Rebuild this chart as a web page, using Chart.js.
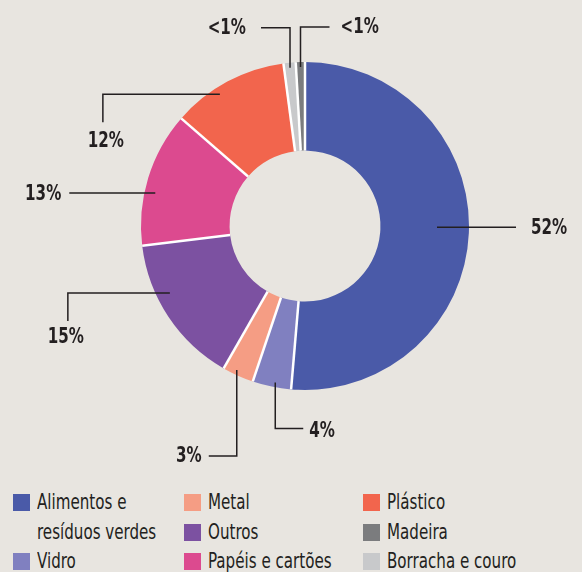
<!DOCTYPE html>
<html lang="pt">
  <head>
    <meta charset="UTF-8" />
    <meta name="viewport" content="width=device-width, initial-scale=1.0" />
    <title>Composição dos resíduos</title>
    <script src="https://cdn.jsdelivr.net/npm/chart.js"></script>
    <style>
      body {
        margin: 0;
        background: #e8e5e0;
        font-family: "DejaVu Sans Condensed", "DejaVu Sans", sans-serif;
        color: #231f20;
      }
      #wrap { position: relative; width: 582px; height: 572px; overflow: hidden; }
      #legend {
        position: absolute;
        left: 13px;
        top: 488px;
        display: grid;
        grid-template-columns: 171px 179px 219px;
        grid-template-rows: repeat(3, 29.5px);
        grid-auto-flow: column;
        font-size: 21px;
        line-height: 29.5px;
      }
      .item { display: flex; align-items: flex-start; }
      .item.tall { grid-row: span 2; }
      .box { width: 17px; height: 17px; margin-top: 6px; margin-right: 7px; flex: none; }
      /* squeeze the text to look like the narrow face of the original */
      .txt { display: inline-block; flex: none; width: 184px; white-space: normal; transform: scaleX(0.8); transform-origin: left center; }
    </style>
  </head>
  <body>
    <div id="wrap">
      <canvas id="myChart" width="582" height="480"></canvas>
      <div id="legend"></div>
    </div>
    <script>
      // categories in drawing order (clockwise from the top)
      const categories = [
        "Alimentos e resíduos verdes",
        "Vidro",
        "Metal",
        "Outros",
        "Papéis e cartões",
        "Plástico",
        "Borracha e couro",
        "Madeira",
      ];
      const shares = [51.3, 3.8, 3.1, 14.8, 13.3, 11.5, 1.2, 0.9];
      const shareLabels = ["52%", "4%", "3%", "15%", "13%", "12%", "<1%", "<1%"];
      const colors = ["#4a5aa8", "#8080c0", "#f59d84", "#7c51a1", "#dc4a8f", "#f2654d", "#c8c9cb", "#7b7c7e"];
      // legend reads column by column
      const legendOrder = [0, 1, 2, 3, 4, 5, 7, 6];

      // leader lines: where along the slice (t) and how far out (r) they start,
      // then the legs of the line and the text offset from its end
      const leaders = [
        { t: 0.49, r: 0.805, legs: [[79, 0]], text: [15, 1], align: "left" },
        { t: 0.43, r: 0.972, legs: [[0, 46], [28, 0]], text: [6, 3], align: "left" },
        { t: 0.61, r: 0.971, legs: [[0, 86], [-28, 0]], text: [-7, 1], align: "right" },
        { t: 0.635, r: 0.92, legs: [[-102, 0], [0, 28]], text: [-2, 16], align: "center" },
        { t: 0.405, r: 0.935, legs: [[-86, 0]], text: [-8, 2], align: "right" },
        { t: 0.39, r: 0.957, legs: [[-117, 0], [0, 28]], text: [3, 19], align: "center" },
        { t: 0.5, r: 0.97, legs: [[0, -40], [-29, 0]], text: [-15, 1], align: "right" },
        { t: 0.5, r: 0.97, legs: [[0, -40], [29, 0]], text: [11, 1], align: "left" },
      ];

      // white gaps between the slices and the labels with their leader lines
      const ringLabels = {
        id: "ringLabels",
        afterDatasetsDraw(chart) {
          const ctx = chart.ctx;
          const arcs = chart.getDatasetMeta(0).data;
          ctx.save();
          ctx.strokeStyle = "#ffffff";
          ctx.lineWidth = 2.5;
          arcs.forEach((a) => {
            const p = a.getProps(["x", "y", "startAngle", "innerRadius", "outerRadius"]);
            const c = Math.cos(p.startAngle), s = Math.sin(p.startAngle);
            ctx.beginPath();
            ctx.moveTo(p.x + c * p.innerRadius, p.y + s * p.innerRadius);
            ctx.lineTo(p.x + c * p.outerRadius, p.y + s * p.outerRadius);
            ctx.stroke();
          });

          ctx.strokeStyle = "#231f20";
          ctx.fillStyle = "#231f20";
          ctx.lineWidth = 1.5;
          ctx.font = 'bold 21px "DejaVu Sans Condensed", "DejaVu Sans", sans-serif';
          ctx.textBaseline = "middle";
          arcs.forEach((a, i) => {
            const p = a.getProps(["x", "y", "startAngle", "endAngle", "outerRadius"]);
            const L = leaders[i];
            const ang = p.startAngle + (p.endAngle - p.startAngle) * L.t;
            let x = p.x + Math.cos(ang) * p.outerRadius * L.r;
            let y = p.y + Math.sin(ang) * p.outerRadius * L.r;
            ctx.beginPath();
            ctx.moveTo(x, y);
            L.legs.forEach(([dx, dy]) => {
              x += dx;
              y += dy;
              ctx.lineTo(x, y);
            });
            ctx.stroke();
            ctx.save();
            ctx.translate(x + L.text[0], y + L.text[1]);
            ctx.scale(0.8, 1);
            ctx.textAlign = L.align;
            ctx.fillText(shareLabels[i], 0, 0);
            ctx.restore();
          });
          ctx.restore();
        },
      };

      const myChart = new Chart(document.getElementById("myChart"), {
        type: "doughnut",
        data: {
          labels: categories,
          datasets: [
            {
              data: shares,
              backgroundColor: colors,
              borderWidth: 0,
            },
          ],
        },
        options: {
          responsive: false,
          animation: false,
          cutout: "46%",
          layout: { padding: { left: 141, right: 113, top: 62, bottom: 90 } },
          plugins: {
            legend: { display: false },
            tooltip: { enabled: false },
          },
        },
        plugins: [ringLabels],
      });

      // html legend built from the chart data
      const legend = document.getElementById("legend");
      legendOrder.forEach((i, n) => {
        const item = document.createElement("div");
        item.className = n === 0 ? "item tall" : "item";
        item.innerHTML = '<span class="box" style="background:' + colors[i] + '"></span><span class="txt">' + categories[i] + "</span>";
        legend.appendChild(item);
      });
    </script>
  </body>
</html>
